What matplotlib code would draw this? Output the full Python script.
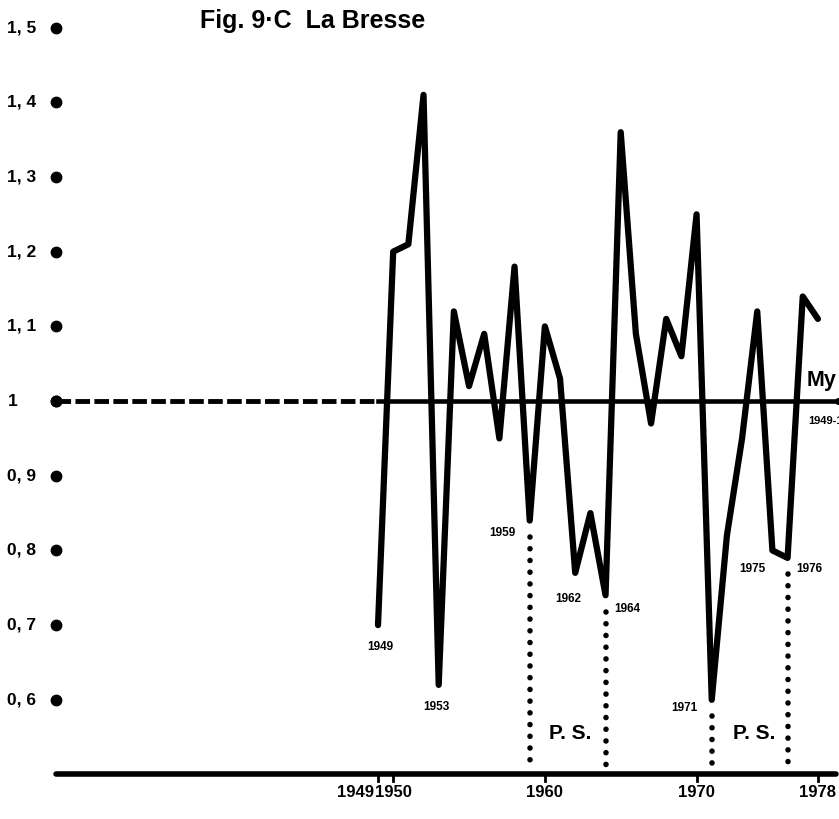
import matplotlib.pyplot as plt

plt.rcParams['font.family'] = ['Liberation Sans', 'DejaVu Sans']

# Indice annuel (moyenne = 1), La Bresse 1949-1978
annees = list(range(1949, 1979))
valeurs = [0.70, 1.20, 1.21, 1.41, 0.62, 1.12, 1.02, 1.09, 0.95, 1.18,
           0.84, 1.10, 1.03, 0.77, 0.85, 0.74, 1.36, 1.09, 0.97, 1.11,
           1.06, 1.25, 0.60, 0.82, 0.95, 1.12, 0.80, 0.79, 1.14, 1.11]

# graduations de l'axe vertical
y_ticks = [1.5, 1.4, 1.3, 1.2, 1.1, 1.0, 0.9, 0.8, 0.7, 0.6]
y_labels = ['1, 5', '1, 4', '1, 3', '1, 2', '1, 1', '1', '0, 9', '0, 8', '0, 7', '0, 6']

# graduations de l'axe horizontal
x_ticks = [1949, 1950, 1960, 1970, 1978]
x_labels = ['1949', '1950', '1960', '1970', '1978']

# années annotées et périodes de "P. S." (pointillés)
annot_annees = [1949, 1953, 1959, 1962, 1964, 1971, 1975, 1976]
ps_annees = [1959, 1964, 1971, 1976]

fig = plt.figure(figsize=(8.39, 8.19), dpi=100)
ax = fig.add_axes([0, 0, 1, 1])
ax.set_xlim(1924.08, 1979.39)
ax.set_ylim(0.4404, 1.537)
ax.axis('off')

x_axe = 1927.8   # position des points de l'axe vertical
y_base = 0.5

# axe vertical : points + libellés
for v, lab in zip(y_ticks, y_labels):
    ax.plot(x_axe, v, 'o', color='black', markersize=7.5)
    ax.annotate(lab, (x_axe, v), xytext=(-49, 0), textcoords='offset pixels',
                ha='left', va='center', fontsize=12.5, fontweight='bold')

# axe horizontal
ax.plot([x_axe, 1979.2], [y_base, y_base], color='black', lw=4,
        solid_capstyle='round')
for t, lab in zip(x_ticks, x_labels):
    ax.plot([t, t], [y_base, y_base - 0.009], color='black', lw=2)
    ha = 'right' if t == 1949 else 'center'
    dx = -4 if t == 1949 else 0
    ax.annotate(lab, (t, y_base), xytext=(dx, -18), textcoords='offset pixels',
                ha=ha, va='center', fontsize=12, fontweight='bold')

# ligne de la moyenne
ax.plot(x_axe, 1, 'o', color='black', markersize=7.5)
ax.plot([x_axe, annees[0]], [1, 1], color='black', lw=3.5,
        linestyle=(0, (3, 0.9)))
ax.plot([annees[0], 1979.3], [1, 1], color='black', lw=3.3)
ax.plot(1979.3, 1, 'o', color='black', markersize=4)
ax.annotate('My', (1979.39, 1), xytext=(-32, 21), textcoords='offset pixels',
            ha='left', va='center', fontsize=15.5, fontweight='bold')
ax.annotate('1949-1978', (1979.39, 1), xytext=(-31, -20),
            textcoords='offset pixels', ha='left', va='center',
            fontsize=8, fontweight='bold')

# courbe
ax.plot(annees, valeurs, color='black', lw=4.5, solid_joinstyle='round',
        solid_capstyle='round')

# pointillés P. S.
for a in ps_annees:
    v = valeurs[annees.index(a)]
    ax.plot([a, a], [v - 0.022, y_base + 0.006], color='black', lw=4,
            linestyle=(0, (0.01, 2.1)), dash_capstyle='round')

# annotations des années
offsets = {1949: (2, -22), 1953: (-2, -22), 1959: (-27, -12), 1962: (-7, -26),
           1964: (22, -14), 1971: (-27, -8), 1975: (-20, -19), 1976: (22, -11)}
for a in annot_annees:
    v = valeurs[annees.index(a)]
    ax.annotate(str(a), (a, v), xytext=offsets[a], textcoords='offset pixels',
                ha='center', va='center', fontsize=8.5, fontweight='bold')

ax.text(1961.7, 0.555, 'P. S.', ha='center', va='center', fontsize=15,
        fontweight='bold')
ax.text(1973.8, 0.555, 'P. S.', ha='center', va='center', fontsize=15,
        fontweight='bold')

ax.text(1937.25, 1.509, 'Fig. 9·C  La Bresse', ha='left', va='center',
        fontsize=18, fontweight='bold')

fig.savefig('out.png', dpi=100)
